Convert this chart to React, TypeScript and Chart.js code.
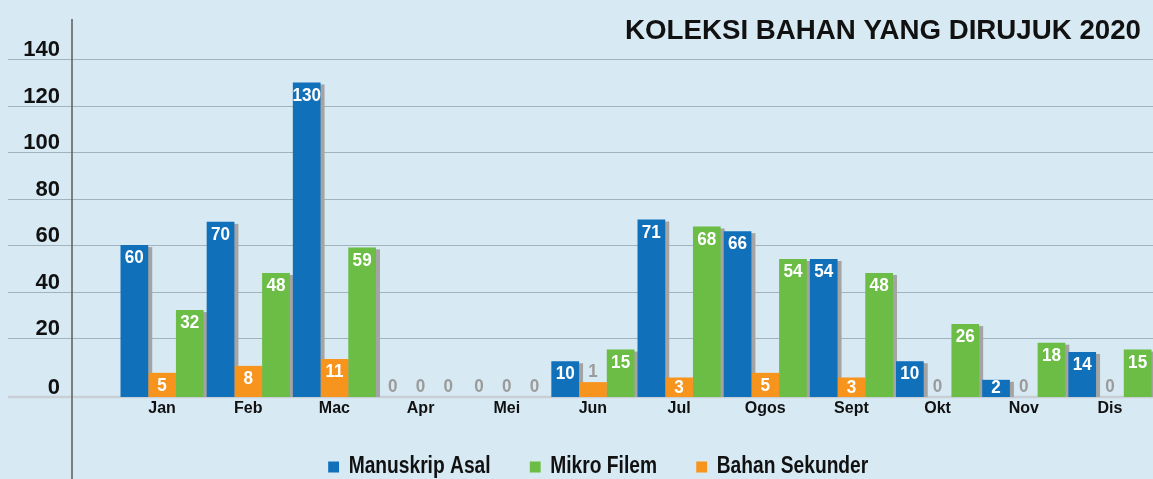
import React, { useEffect, useRef } from "react";
import { Chart, registerables } from "chart.js";

Chart.register(...registerables);

// ---- data ----
const months = ["Jan", "Feb", "Mac", "Apr", "Mei", "Jun", "Jul", "Ogos", "Sept", "Okt", "Nov", "Dis"];
const manuskripAsal = [60, 70, 130, 0, 0, 10, 71, 66, 54, 10, 2, 14];
const bahanSekunder = [5, 8, 11, 0, 0, 1, 3, 5, 3, 0, 0, 0];
const mikroFilem = [32, 48, 59, 0, 0, 15, 68, 54, 48, 26, 18, 15];
const yTickValues = [20, 40, 60, 80, 100, 120, 140];
const yTickLabels = ["0", "20", "40", "60", "80", "100", "120", "140"];
const legendOrder = ["Manuskrip Asal", "Mikro Filem", "Bahan Sekunder"];
const chartTitle = "KOLEKSI BAHAN YANG DIRUJUK 2020";

// ---- style ----
const BG = "#d7e9f3";
const BLUE = "#1170ba";
const ORANGE = "#f7941d";
const GREEN = "#6bbd45";
const SHADOW = "#a4a4a4";
const GRID = "#a3b3be";
const BASELINE = "#c8d0d5";
const SANS = '"Liberation Sans", Arial, sans-serif';
const Y_MIN = -5.4;
const Y_MAX = 150;
const LEGEND_SCALE = 0.835;
const LEGEND_SHIFT_X = 26;
const LEGEND_SHIFT_Y = -13.5;

const W = 1153;
const H = 502;

const decorPlugin = {
  id: "decor",
  afterLayout(chart: any) {
    const lg = chart.legend;
    if (!lg) return;
    lg.left += LEGEND_SHIFT_X;
    lg.right += LEGEND_SHIFT_X;
    lg.top += LEGEND_SHIFT_Y;
    lg.bottom += LEGEND_SHIFT_Y;
    if (!lg.__wrapped) {
      const orig = lg.draw.bind(lg);
      lg.draw = (...args: any[]) => {
        const ctx = chart.ctx;
        const cx = chart.width / 2;
        ctx.save();
        ctx.translate(cx, 0);
        ctx.scale(LEGEND_SCALE, 1);
        ctx.translate(-cx, 0);
        orig(...args);
        ctx.restore();
      };
      lg.__wrapped = true;
    }
  },
  beforeDraw(chart: any) {
    const { ctx } = chart;
    const y = chart.scales.y;
    ctx.save();
    ctx.fillStyle = BG;
    ctx.fillRect(0, 0, chart.width, chart.height);
    // grid lines
    ctx.strokeStyle = GRID;
    ctx.lineWidth = 1.2;
    yTickValues.forEach((v) => {
      const py = Math.round(y.getPixelForValue(v)) + 0.5;
      ctx.beginPath();
      ctx.moveTo(8, py);
      ctx.lineTo(chart.width, py);
      ctx.stroke();
    });
    // baseline
    const by = y.getPixelForValue(y.min);
    ctx.strokeStyle = BASELINE;
    ctx.lineWidth = 2.5;
    ctx.beginPath();
    ctx.moveTo(8, by);
    ctx.lineTo(chart.width, by);
    ctx.stroke();
    // vertical axis line
    ctx.strokeStyle = "#5a5a5a";
    ctx.lineWidth = 1.5;
    ctx.beginPath();
    ctx.moveTo(72, 19);
    ctx.lineTo(72, chart.height);
    ctx.stroke();
    // title
    ctx.fillStyle = "#111";
    ctx.font = `bold 27.7px ${SANS}`;
    ctx.textAlign = "right";
    ctx.textBaseline = "middle";
    ctx.fillText(chartTitle, 1141, 31);
    ctx.restore();
  },
  beforeDatasetsDraw(chart: any) {
    const { ctx } = chart;
    ctx.save();
    ctx.fillStyle = SHADOW;
    chart.data.datasets.forEach((ds: any, di: number) => {
      const meta = chart.getDatasetMeta(di);
      meta.data.forEach((bar: any, i: number) => {
        if (!(ds.data[i] > 0)) return;
        const { x, y, base, width } = bar.getProps(["x", "y", "base", "width"], true);
        ctx.fillRect(x + width / 2 - 1, y + 2, 5, base - y - 2);
      });
    });
    ctx.restore();
  },
  afterDatasetsDraw(chart: any) {
    const { ctx } = chart;
    chart.data.datasets.forEach((ds: any, di: number) => {
      const meta = chart.getDatasetMeta(di);
      meta.data.forEach((bar: any, i: number) => {
        const v = ds.data[i];
        const { x, y, base } = bar.getProps(["x", "y", "base"], true);
        let ty: number;
        ctx.save();
        if (v <= 1) {
          ctx.fillStyle = "#9b9b9b";
          ty = v === 0 ? base - 10 : y - 10;
        } else {
          ctx.fillStyle = "#ffffff";
          ty = Math.min(y + 13, base - 9);
        }
        ctx.font = `bold 19px ${SANS}`;
        ctx.textAlign = "center";
        ctx.textBaseline = "middle";
        ctx.translate(x, ty);
        ctx.scale(0.9, 1);
        ctx.fillText(String(v), 0, 0);
        ctx.restore();
      });
    });
  },
};

const colorFor = (c: string) => (ctx: any) => (ctx.raw === 0 ? "rgba(0,0,0,0)" : c);

export default function App() {
  const ref = useRef<HTMLCanvasElement>(null);
  useEffect(() => {
    document.documentElement.style.overflow = "hidden";
    document.body.style.margin = "0";
    document.body.style.overflow = "hidden";
    document.body.style.background = BG;
    const chart = new Chart(ref.current as HTMLCanvasElement, {
      type: "bar",
      data: {
        labels: months,
        datasets: [
          { label: "Manuskrip Asal", data: manuskripAsal, backgroundColor: colorFor(BLUE) as any, base: Y_MIN, borderWidth: 0 } as any,
          { label: "Bahan Sekunder", data: bahanSekunder, backgroundColor: colorFor(ORANGE) as any, base: Y_MIN, borderWidth: 0 } as any,
          { label: "Mikro Filem", data: mikroFilem, backgroundColor: colorFor(GREEN) as any, base: Y_MIN, borderWidth: 0 } as any,
        ],
      },
      options: {
        responsive: false,
        animation: false,
        devicePixelRatio: 1,
        layout: { padding: { top: 36, left: 0, right: 0, bottom: 0 } },
        datasets: { bar: { categoryPercentage: 0.965, barPercentage: 1 } },
        scales: {
          x: {
            grid: { display: false, drawTicks: false },
            border: { display: false },
            ticks: { color: "#111", font: { family: SANS, size: 16, weight: "bold" }, padding: 2, maxRotation: 0 },
            afterFit: (s: any) => {
              s.height = 25;
            },
          },
          y: {
            min: Y_MIN,
            max: Y_MAX,
            grid: { display: false, drawTicks: false },
            border: { display: false },
            afterBuildTicks: (s: any) => {
              s.ticks = [{ value: s.min }, ...yTickValues.map((v) => ({ value: v }))];
            },
            ticks: {
              color: "#111",
              font: { family: SANS, size: 22, weight: "bold" },
              padding: 59,
              labelOffset: -9,
              callback: (_v: any, i: number) => yTickLabels[i],
            },
            afterFit: (s: any) => {
              s.width = 119;
              s.paddingTop = 0;
              s.paddingBottom = 0;
            },
          },
        },
        plugins: {
          legend: {
            position: "bottom",
            labels: {
              color: "#111",
              font: { family: SANS, size: 23, weight: "bold" },
              boxWidth: 13,
              boxHeight: 11,
              padding: 47,
              sort: (a: any, b: any) => legendOrder.indexOf(a.text) - legendOrder.indexOf(b.text),
            },
          },
          title: { display: false },
          tooltip: { enabled: false },
        },
      } as any,
      plugins: [decorPlugin],
    });
    return () => chart.destroy();
  }, []);
  return (
    <div style={{ width: W, height: H, background: BG }}>
      <canvas ref={ref} width={W} height={H} style={{ display: "block", width: W, height: H }} />
    </div>
  );
}
